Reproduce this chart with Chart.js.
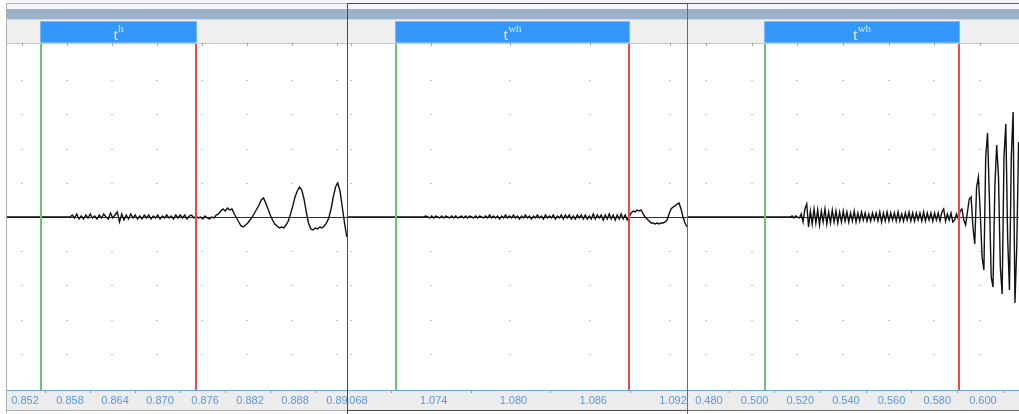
<!DOCTYPE html>
<html>
<head>
<meta charset="utf-8">
<title>Waveform segments</title>
<script src="https://cdn.jsdelivr.net/npm/chart.js@4.4.1/dist/chart.umd.min.js"></script>
<style>
  html, body { margin: 0; padding: 0; background: #ffffff; }
  #wrap { position: relative; width: 1019px; height: 414px; overflow: hidden; }
  #wrap canvas { position: absolute; top: 0; }
</style>
</head>
<body>
<div id="wrap">
  <canvas id="panel1" width="347" height="414" style="left:0px"></canvas>
  <canvas id="panel2" width="340" height="414" style="left:347px"></canvas>
  <canvas id="panel3" width="332" height="414" style="left:687px"></canvas>
</div>
<script>
// ---- data ----
// amplitude samples (arbitrary units), one sample every `step` seconds from `start`
const p1Start = 0.8500;
const p1Step = 0.0003;
const p1Amp = [
    0, 0, 0, 0, 0, 0, 0, 0, 0, 0, 0, 0, 0, 0, 0, 0, 0, 0, 0, 0,
    0, 0, 0, 0, 0, 0, 0, 0, 0,
    2, -1, 3, -2, 1, -2, 2, -1, 3, -1,
    1, -2, 2, -1, 3, 0, -2, 4, -1, 2,
    5, -5, 3, -3, 2,
    -2, 3, -1, 2, -2, 1, -2, 2, -1, 2,
    -2, 1, -1, 2, -2, 1, -1, 2, -1, 1,
    -2, 2, -1, 2, -1, 2, -2, 1, 2, -1,
    1, -1, 0, -2, 1, -1, -2, 0, -1, 2,
    3, 6, 8, 6, 9, 7, 8, 3, -1, -5,
    -9, -10, -8, -6, -3, 0, 4, 8, 12, 17,
    19, 14, 8, 2, -3, -7, -9, -11, -10, -11,
    -8, -4, 3, 11, 20, 26, 30, 27, 18, 5,
    -6, -12, -13, -11, -12, -10, -11, -9, -6, -1,
    8, 20, 30, 34, 26, 10, -6, -20
];

const p2Start = 1.06778;
const p2Step = 0.00015;
const p2Amp = [
    0, 0, 0, 0, 0, 0, 0, 0, 0, 0, 0, 0, 0, 0, 0, 0, 0, 0, 0, 0,
    0, 0, 0, 0, 0, 0, 0, 0, 0, 0, 0, 0, 0, 0, 0, 0, 0, 0,
    0, 1, 0, -1,
    1, -1, 1, 0, -1, 1, -1, 1, 0, -1,
    1, -1, 1, -1, 0, 1, -1, 1, -1, 1,
    0, -1, 1, -1, 1, 0, -1, 1, -1, 2,
    -1, 1, -1, 1, -2, 1, -1, 2, -1, 1,
    -1, 2, -1, 1, -2, 1, -1, 2, -1, 1,
    -2, 1, -1, 2, -1, 1, -2, 2, -1, 1,
    -1, 2, -2, 1, -1,
    2, -2, 2, -1, 2, -2, 1, -2, 2, -1,
    2, -2, 2, -2, 1, -2, 3, -2, 2, -1,
    2, -3, 2, -2, 3, -2, 2, -3, 2, -2,
    3, -2, 2, -3,
    0, 4, 6, 5, 7, 6, 7, 3, 0, -2,
    -4, -6, -6, -7, -6, -7, -6, -6, -5, -3,
    3, 8, 10, 11, 13, 14, 8, 0, -6, -10
];

const p3Start = 0.47214;
const p3Step = 0.0008;
const p3Amp = [
    0, 0, 0, 0, 0, 0, 0, 0, 0, 0, 0, 0, 0, 0, 0, 0, 0, 0, 0, 0,
    0, 0, 0, 0, 0, 0, 0, 0, 0, 0, 0, 0, 0, 0, 0, 0, 0, 0, 0, 0,
    0, 0, 0, 0, 0, 0, 0, 0, 0, 0, 0, 0, 0, 0, 0, 0,
    0, 1, -1, 1, 0, -1,
    3, -5, 8, 13, -10, 6, -7, 8, -6, 7, -8, 6, -5, 8, -7, 5, -6, 7, -5, 6, -6, 5,
    -5, 6, -4, 5, -5, 4, -4, 6, -5, 4,
    -4, 5, -3, 4, -4, 3, -4, 4, -3, 4,
    -4, 5, -5, 4, -4, 5, -4, 4, -3, 4,
    -4, 5, -4, 3, -4, 4, -3, 5, -4, 4,
    -4, 4, -3, 4, -4, 5, -4, 4, -3, 4,
    -4, 4, -3, 4, -4, 5, 8, -4, 3, -3,
    4, -5,
    -3, 3, -2, 6, 8, -3, -8, 5, 18, 20,
    -10, -27, 30, 40, 5, -40, -53, 60, 84, 20,
    -60, -70, 30, 72, 40, -50, -77, 60, 93, -20,
    -73, 60, 105, -86, -30, 75
];

// time axis tick labels (s)
const p1Ticks = [0.852, 0.858, 0.864, 0.870, 0.876, 0.882, 0.888, 0.894];
const p2Ticks = [1.068, 1.074, 1.080, 1.086, 1.092];
const p3Ticks = [0.480, 0.500, 0.520, 0.540, 0.560, 0.580, 0.600];

// segment boundaries (start = green, end = red), seconds
const p1Marks = [0.85453, 0.8752];
const p2Marks = [1.07138, 1.08893];
const p3Marks = [0.50576, 0.59092];

// segment labels: base letter + superscript
const p1Label = ["t", "h"];
const p2Label = ["t", "wh"];
const p3Label = ["t", "wh"];

// amplitude levels that carry grid dots
const ampGrid = [-137, -103, -68, -34, 34, 68, 103, 137];

/**
 * Draws the header strip, segment box, grid dots, boundaries and frame
 */
const decor = {
    id: "decor",
    beforeDraw(chart, args, o) {
        const { ctx, width, height, chartArea: a } = chart;
        const L = a.left;
        const W = width - L;
        ctx.save();
        ctx.fillStyle = "#ffffff";
        ctx.fillRect(0, 0, width, height);
        ctx.fillStyle = "#f4f6f9";
        ctx.fillRect(L, 0, W, 9);
        ctx.fillStyle = "#9cb2ca";
        ctx.fillRect(L, 9, W, 10);
        ctx.fillStyle = "#d3dce6";
        ctx.fillRect(L, 19, W, 1);
        ctx.fillStyle = "#efefef";
        ctx.fillRect(L, 20, W, a.top - 20);
        ctx.fillStyle = "#c6c6c6";
        ctx.fillRect(L, a.top - 1, W, 1);
        ctx.fillStyle = "#ededed";
        ctx.fillRect(L, a.bottom, W, 20);
        ctx.restore();
    },
    beforeDatasetsDraw(chart, args, o) {
        const { ctx, chartArea: a, scales } = chart;
        const x = scales.x;
        const y = scales.y;
        ctx.save();
        // grid dots
        ctx.fillStyle = "#c4c4c4";
        x.ticks.forEach((t) => {
            const px = Math.round(x.getPixelForValue(t.value));
            ampGrid.forEach((v) => {
                const py = Math.round(y.getPixelForValue(v));
                ctx.fillRect(px - 1, py, 2, 1);
            });
        });
        // zero line
        const zy = Math.round(y.getPixelForValue(0)) + 0.5;
        ctx.strokeStyle = "#303030";
        ctx.lineWidth = 1;
        ctx.beginPath();
        ctx.moveTo(a.left, zy);
        ctx.lineTo(a.right, zy);
        ctx.stroke();
        ctx.restore();
    },
    afterDatasetsDraw(chart, args, o) {
        const { ctx, chartArea: a, scales } = chart;
        const x = scales.x;
        const gx = Math.round(x.getPixelForValue(o.marks[0]));
        const rx = Math.round(x.getPixelForValue(o.marks[1]));
        ctx.save();
        // segment boundaries
        ctx.fillStyle = "#6cc46c";
        ctx.fillRect(gx - 1, a.top, 2, a.height);
        ctx.fillStyle = "#e84a4a";
        ctx.fillRect(rx - 1, a.top, 2, a.height);

        // segment box in the header
        ctx.fillStyle = "#3498fb";
        ctx.fillRect(gx - 1, 21, rx - gx + 2, a.top - 22);
        ctx.strokeStyle = "#74b8ff";
        ctx.strokeRect(gx - 0.5, 21.5, rx - gx + 1, a.top - 23);

        // label
        const cx = (gx + rx) / 2;
        ctx.textAlign = "left";
        ctx.textBaseline = "alphabetic";
        ctx.font = '17px "Liberation Serif"';
        const w1 = ctx.measureText(o.label[0]).width;
        ctx.font = '11px "Liberation Serif"';
        const w2 = ctx.measureText(o.label[1]).width;
        const x0 = cx - (w1 + w2) / 2;
        ctx.fillStyle = "rgba(232, 240, 255, 0.92)";
        ctx.font = '17px "Liberation Serif"';
        ctx.fillText(o.label[0], x0, 40);
        ctx.font = '11px "Liberation Serif"';
        ctx.fillText(o.label[1], x0 + w1, 32);

        // small ticks along the top of the plot
        ctx.fillStyle = "#a8a8a8";
        x.ticks.forEach((t) => {
            const px = Math.round(x.getPixelForValue(t.value));
            ctx.fillRect(px, a.top - 1, 1, 3);
        });
        // minor ticks below the axis line, half way between labels
        ctx.fillStyle = "#6aa6e6";
        const pxs = x.ticks.map((t) => x.getPixelForValue(t.value));
        const gap = pxs[1] - pxs[0];
        for (let i = -1; i < pxs.length; i++) {
            const m = Math.round(pxs[0] + (i + 0.5) * gap);
            if (m > a.left && m < a.right) ctx.fillRect(m, a.bottom, 1, 3);
        }
        ctx.restore();
    },
    afterDraw(chart, args, o) {
        const { ctx, width, height, chartArea: a } = chart;
        ctx.save();
        ctx.strokeStyle = o.frame;
        ctx.lineWidth = 1;
        ctx.beginPath();
        // top and bottom rules
        ctx.moveTo(a.left, 3.5);
        ctx.lineTo(width, 3.5);
        ctx.moveTo(a.left, 410.5);
        ctx.lineTo(width, 410.5);
        // left rule
        ctx.moveTo(a.left - 0.5, 3);
        ctx.lineTo(a.left - 0.5, height);
        ctx.stroke();
        ctx.restore();
    },
};

/**
 * Build one panel chart
 */
function makePanel(id, amp, start, step, min, max, ticks, marks, label, padLeft, frame) {
    const points = amp.map((v, i) => ({ x: start + i * step, y: v }));
    return new Chart(document.getElementById(id), {
        type: "line",
        data: {
            datasets: [
                {
                    data: points,
                    borderColor: "#111111",
                    borderWidth: 1.4,
                    pointRadius: 0,
                    tension: 0,
                    fill: false,
                },
            ],
        },
        options: {
            responsive: false,
            animation: false,
            events: [],
            layout: { padding: { left: padLeft, top: 44, right: 0, bottom: 0 } },
            scales: {
                x: {
                    type: "linear",
                    min: min,
                    max: max,
                    afterBuildTicks: (scale) => {
                        scale.ticks = ticks.map((v) => ({ value: v }));
                    },
                    afterFit: (scale) => {
                        scale.height = 24;
                        scale.paddingLeft = 0;
                        scale.paddingRight = 0;
                    },
                    grid: { display: false, drawTicks: false },
                    border: { display: true, color: "#6aa6e6", width: 1 },
                    ticks: {
                        autoSkip: false,
                        maxRotation: 0,
                        padding: 4,
                        labelOffset: 3,
                        color: "#5b98dc",
                        font: { family: "Liberation Sans", size: 11 },
                        callback: (v) => Number(v).toFixed(3),
                    },
                },
                y: {
                    display: false,
                    min: -173,
                    max: 173,
                },
            },
            plugins: {
                legend: { display: false },
                tooltip: { enabled: false },
                decor: { marks: marks, label: label, frame: frame },
            },
        },
        plugins: [decor],
    });
}

makePanel("panel1", p1Amp, p1Start, p1Step, 0.8500, 0.89533, p1Ticks, p1Marks, p1Label, 7, "#b0b0b0");
makePanel("panel2", p2Amp, p2Start, p2Step, 1.06778, 1.09328, p2Ticks, p2Marks, p2Label, 1, "#4a4a4a");
makePanel("panel3", p3Amp, p3Start, p3Step, 0.47214, 0.61712, p3Ticks, p3Marks, p3Label, 1, "#6a6a6a");
</script>
</body>
</html>
